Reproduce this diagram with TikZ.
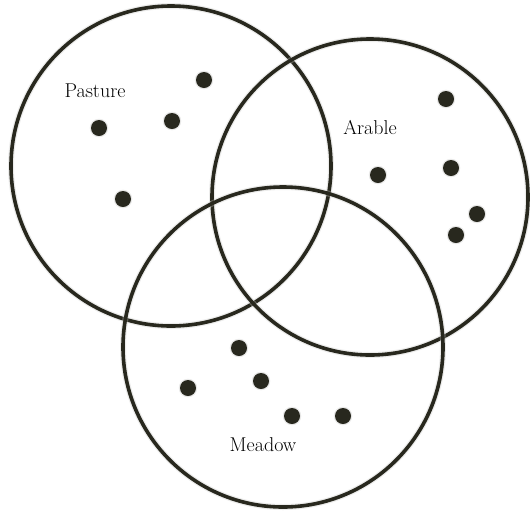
\documentclass[tikz,border=0pt]{standalone}
\usetikzlibrary{backgrounds}
\definecolor{ink}{RGB}{40,40,30}
\tikzset{
  setring/.style={circle, draw=ink, line width=3.6pt, minimum size=#1, inner sep=0pt,
    preaction={draw=ink!25, line width=6pt, opacity=0.35}},
  dotmark/.style={circle, fill=ink, minimum size=16pt, inner sep=0pt,
    preaction={draw=ink!25, line width=2.5pt, opacity=0.4}},
  setlabel/.style={font=\fontsize{20}{22}\selectfont, text=black, inner sep=0pt}
}
\begin{document}
\begin{tikzpicture}[x=1pt, y=-1pt]
\useasboundingbox[fill=white] (0,0) rectangle (530,515);
% sets
\node[setring=320pt] (pasture) at (171,166) {};
\node[setring=316pt] (arable) at (370,197) {};
\node[setring=320pt] (meadow) at (283,347) {};
% labels
\node[setlabel] (lp) at (95,91) {Pasture};
\node[setlabel] (la) at (370,128) {Arable};
\node[setlabel] (lm) at (263,445) {Meadow};
% pasture dots
\node[dotmark] (p1) at (204,80) {};
\node[dotmark] (p2) at (172,121) {};
\node[dotmark] (p3) at (99,128) {};
\node[dotmark] (p4) at (123,199) {};
% arable dots
\node[dotmark] (a1) at (446,99) {};
\node[dotmark] (a2) at (378,175) {};
\node[dotmark] (a3) at (451,168) {};
\node[dotmark] (a4) at (477,214) {};
\node[dotmark] (a5) at (456,235) {};
% meadow dots
\node[dotmark] (m1) at (239,348) {};
\node[dotmark] (m2) at (188,388) {};
\node[dotmark] (m3) at (261,381) {};
\node[dotmark] (m4) at (292,416) {};
\node[dotmark] (m5) at (343,416) {};
\end{tikzpicture}
\end{document}
